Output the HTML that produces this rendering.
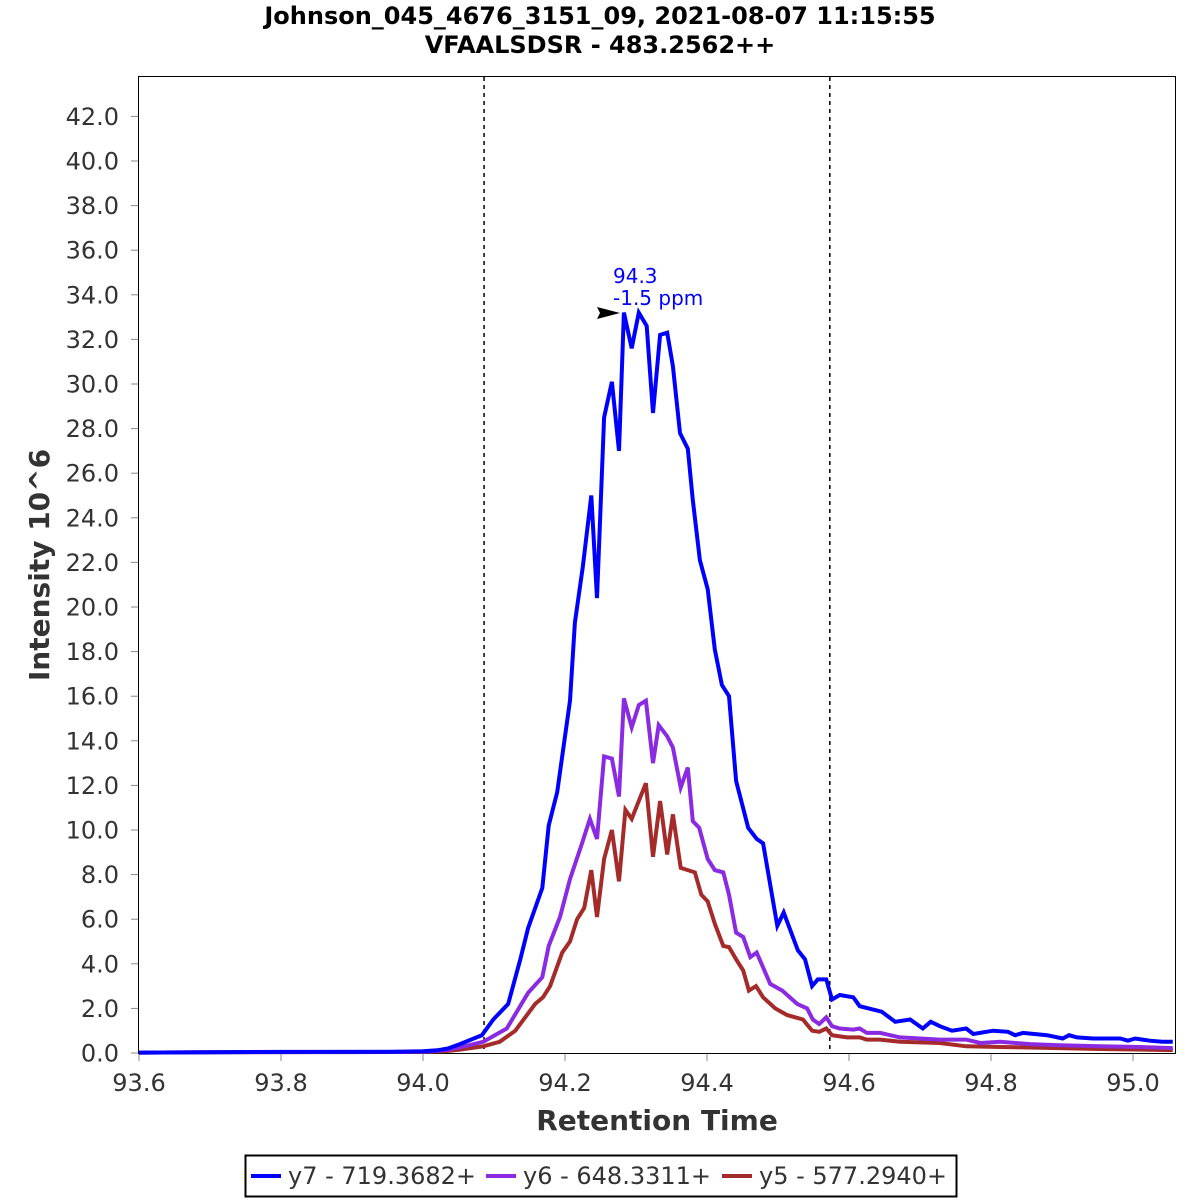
<!DOCTYPE html>
<html><head><meta charset="utf-8"><style>
body{margin:0;background:#fff;}
svg{display:block;font-family:"Liberation Sans","DejaVu Sans",sans-serif;}
</style></head><body>
<svg id="chart" width="1200" height="1200" viewBox="0 0 1200 1200">
<text x="600" y="24" text-anchor="middle" font-size="24" font-weight="bold" font-family="DejaVu Sans, sans-serif">Johnson_045_4676_3151_09, 2021-08-07 11:15:55</text>
<text x="600" y="53" text-anchor="middle" font-size="24" font-weight="bold" font-family="DejaVu Sans, sans-serif">VFAALSDSR - 483.2562++</text>
<rect x="138.5" y="76.5" width="1037" height="977" fill="#fff" stroke="#000" stroke-width="1"/>
<g id="ticks"></g>
<g id="series"></g>
<text x="613" y="283" font-size="20" fill="#0000ff" font-family="DejaVu Sans, sans-serif">94.3</text>
<text x="613" y="305" font-size="20" fill="#0000ff" font-family="DejaVu Sans, sans-serif">-1.5 ppm</text>
<polygon points="597,307 620,313 597,319 600,313" fill="#000"/>
<text x="657" y="1130" text-anchor="middle" font-size="28" font-weight="bold" fill="#333" font-family="DejaVu Sans, sans-serif">Retention Time</text>
<text transform="translate(49,565) rotate(-90)" text-anchor="middle" font-size="28" font-weight="bold" fill="#333" font-family="DejaVu Sans, sans-serif">Intensity 10^6</text>
<g>
<rect x="245.5" y="1155.5" width="711" height="41" fill="#fff" stroke="#000" stroke-width="2"/>
<line x1="251" y1="1176" x2="281" y2="1176" stroke="#0000ff" stroke-width="4"/>
<text x="288" y="1184" font-size="24" fill="#333" font-family="DejaVu Sans, sans-serif">y7 - 719.3682+</text>
<line x1="486" y1="1176" x2="516" y2="1176" stroke="#8a2be2" stroke-width="4"/>
<text x="523" y="1184" font-size="24" fill="#333" font-family="DejaVu Sans, sans-serif">y6 - 648.3311+</text>
<line x1="722" y1="1176" x2="752" y2="1176" stroke="#a52a2a" stroke-width="4"/>
<text x="759" y="1184" font-size="24" fill="#333" font-family="DejaVu Sans, sans-serif">y5 - 577.2940+</text>
</g>
</svg>
<script>
const xTicks=[93.6,93.8,94.0,94.2,94.4,94.6,94.8,95.0];
const yTicks=[0,2,4,6,8,10,12,14,16,18,20,22,24,26,28,30,32,34,36,38,40,42];
const boundaryTimes=[94.086,94.573];
const y7Times=[93.6,93.7,93.8,93.9,93.95,94.0,94.02,94.035,94.052,94.083,94.099,94.120,94.137,94.148,94.168,94.177,94.189,94.207,94.214,94.225,94.237,94.245,94.255,94.266,94.276,94.283,94.294,94.304,94.315,94.324,94.334,94.344,94.352,94.362,94.373,94.380,94.390,94.401,94.411,94.421,94.431,94.441,94.458,94.470,94.479,94.499,94.508,94.528,94.538,94.548,94.556,94.568,94.576,94.587,94.606,94.615,94.646,94.665,94.686,94.704,94.715,94.728,94.745,94.765,94.775,94.803,94.824,94.834,94.845,94.879,94.901,94.910,94.921,94.944,94.982,94.993,95.003,95.024,95.041,95.056];
const y7Values=[0.02,0.03,0.05,0.05,0.05,0.08,0.12,0.2,0.4,0.8,1.5,2.2,4.2,5.6,7.4,10.2,11.7,15.8,19.3,21.8,25.0,20.4,28.5,30.1,27.0,33.2,31.6,33.2,32.6,28.7,32.2,32.3,30.8,27.8,27.1,24.8,22.1,20.8,18.1,16.5,16.0,12.2,10.1,9.6,9.4,5.7,6.3,4.6,4.2,3.0,3.3,3.3,2.4,2.6,2.5,2.1,1.85,1.4,1.5,1.1,1.4,1.2,1.0,1.1,0.85,1.0,0.95,0.8,0.9,0.8,0.65,0.8,0.7,0.65,0.65,0.55,0.65,0.55,0.5,0.5];
const y6Times=[93.6,93.7,93.8,93.9,94.0,94.03,94.052,94.085,94.118,94.148,94.168,94.177,94.193,94.207,94.224,94.235,94.245,94.255,94.266,94.276,94.283,94.294,94.304,94.314,94.324,94.332,94.344,94.352,94.363,94.373,94.380,94.389,94.401,94.411,94.423,94.431,94.441,94.451,94.461,94.470,94.489,94.506,94.527,94.541,94.549,94.558,94.568,94.576,94.587,94.606,94.615,94.625,94.644,94.672,94.728,94.765,94.785,94.813,94.855,94.897,94.954,95.010,95.056];
const y6Values=[0.02,0.03,0.04,0.05,0.06,0.12,0.25,0.5,1.1,2.7,3.4,4.8,6.1,7.8,9.4,10.5,9.6,13.3,13.2,11.5,15.9,14.6,15.6,15.8,13.0,14.7,14.2,13.7,11.9,12.8,10.4,10.1,8.7,8.2,8.1,7.1,5.4,5.2,4.3,4.5,3.1,2.8,2.2,2.0,1.5,1.3,1.6,1.2,1.1,1.05,1.1,0.9,0.9,0.7,0.6,0.6,0.45,0.5,0.4,0.35,0.3,0.27,0.22];
const y5Times=[93.6,93.7,93.8,93.9,94.0,94.03,94.052,94.085,94.108,94.130,94.158,94.169,94.179,94.196,94.207,94.217,94.227,94.237,94.245,94.255,94.266,94.276,94.285,94.294,94.304,94.314,94.324,94.334,94.344,94.352,94.363,94.383,94.392,94.401,94.411,94.423,94.431,94.441,94.451,94.459,94.469,94.479,94.496,94.513,94.535,94.548,94.558,94.568,94.576,94.597,94.615,94.625,94.644,94.672,94.728,94.765,94.813,94.897,94.954,95.056];
const y5Values=[0.02,0.03,0.04,0.04,0.05,0.08,0.15,0.3,0.5,1.0,2.2,2.5,3.0,4.5,5.0,6.0,6.5,8.2,6.1,8.7,10.0,7.7,10.9,10.5,11.3,12.1,8.8,11.3,8.9,10.7,8.3,8.1,7.1,6.8,5.8,4.8,4.75,4.2,3.7,2.8,3.0,2.5,2.0,1.7,1.5,1.0,0.95,1.1,0.8,0.7,0.7,0.6,0.6,0.5,0.45,0.3,0.27,0.22,0.18,0.13];

const NS='http://www.w3.org/2000/svg';
const X0=139,XS=710,T0=93.6,Y0=1053,YS=22.3;
function xPos(t){return X0+(t-T0)*XS;}
function yPos(v){return Y0-v*YS;}
const tg=document.getElementById('ticks');
const sg=document.getElementById('series');
function mk(tag,attrs,parent){const e=document.createElementNS(NS,tag);for(const k in attrs)e.setAttribute(k,attrs[k]);parent.appendChild(e);return e;}

yTicks.forEach(v=>{
  const y=yPos(v);
  const l=mk('line',{x1:131,x2:138,y1:y,y2:y,stroke:'#888'},tg);
  
  
  const t=mk('text',{x:119,y:y+8.5,'text-anchor':'end','font-size':24,fill:'#333','font-family':'DejaVu Sans, sans-serif'},tg);
  t.textContent=v.toFixed(1);
  
  
});
xTicks.forEach(v=>{
  const x=xPos(v);
  const l=mk('line',{x1:x,x2:x,y1:1054,y2:1061,stroke:'#888'},tg);
  
  
  const t=mk('text',{x:x,y:1091,'text-anchor':'middle','font-size':24,fill:'#333','font-family':'DejaVu Sans, sans-serif'},tg);
  t.textContent=v.toFixed(1);
  
  
});
boundaryTimes.forEach(b=>{
  const x=xPos(b);
  const l=mk('line',{x1:x,x2:x,y1:77,y2:1053,stroke:'#000','stroke-width':1.5,'stroke-dasharray':'4,4'},sg);
  
  
});
function drawSeries(ts,vs,color,name){
  const pts=ts.map((t,i)=>xPos(t).toFixed(1)+','+yPos(vs[i]).toFixed(1)).join(' ');
  const p=mk('polyline',{points:pts,fill:'none',stroke:color,'stroke-width':4,'stroke-linejoin':'miter'},sg);
  
  
}
drawSeries(y5Times,y5Values,'#a52a2a','series-y5');
drawSeries(y6Times,y6Values,'#8a2be2','series-y6');
drawSeries(y7Times,y7Values,'#0000ff','series-y7');
</script>
</body></html>
